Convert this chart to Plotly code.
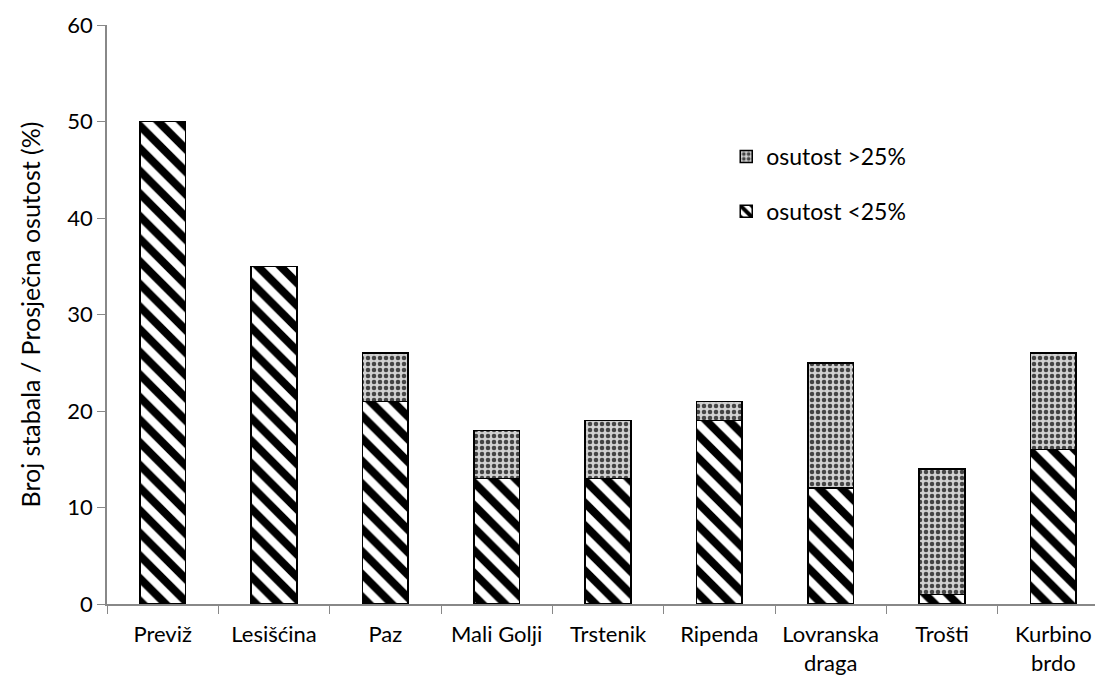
import plotly.graph_objects as go

sites = ["Previž", "Lesišćina", "Paz", "Mali Golji", "Trstenik", "Ripenda",
         "Lovranska<br>draga", "Trošti", "Kurbino<br>brdo"]
below_25 = [50, 35, 21, 13, 13, 19, 12, 1, 16]
above_25 = [0, 0, 5, 5, 6, 2, 13, 13, 10]

fig = go.Figure()
fig.add_trace(go.Bar(
    x=sites, y=below_25, name="osutost <25%", legendgroup="b", legendrank=2,
    marker=dict(color="white", line=dict(color="black", width=1.5),
                pattern=dict(shape="\\", fgcolor="black", bgcolor="white",
                             fgopacity=1, size=16, solidity=0.5)),
))
fig.add_trace(go.Bar(
    x=sites, y=above_25, name="osutost >25%", legendgroup="a", legendrank=1,
    marker=dict(color="white", line=dict(color="black", width=1.5),
                pattern=dict(shape=".", fgcolor="#444444", bgcolor="#d0d0d0",
                             fgopacity=1, size=6, solidity=0.45)),
))

fig.update_layout(
    barmode="stack",
    bargap=0.59,
    width=1103, height=684,
    margin=dict(l=99, r=2, t=17, b=88),
    plot_bgcolor="white", paper_bgcolor="white",
    font=dict(family="Lato, Open Sans, sans-serif", size=21, color="black"),
    showlegend=True,
    legend=dict(x=0.618, y=0.81, xanchor="left", yanchor="top",
                traceorder="grouped", font=dict(size=23),
                itemwidth=30, tracegroupgap=22, bgcolor="rgba(0,0,0,0)"),
)
fig.update_yaxes(range=[0, 60], dtick=10, showgrid=False, showline=True,
                 linecolor="#888888", linewidth=1.5, ticks="outside",
                 tickcolor="#888888", ticklen=8, zeroline=False,
                 tickfont=dict(size=22),
                 title=dict(text="Broj stabala / Prosječna osutost (%)",
                            font=dict(size=25), standoff=20))
fig.update_xaxes(showgrid=False, showline=True, linecolor="#888888", linewidth=1.5,
                 ticks="outside", tickson="boundaries", tickcolor="#888888",
                 ticklen=8, ticklabelstandoff=10, tickfont=dict(size=22))

fig.write_html("out.html")
